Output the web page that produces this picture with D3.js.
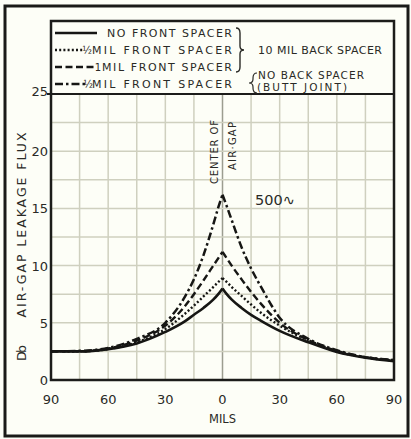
<!DOCTYPE html>
<html>
<head>
<meta charset="utf-8">
<script src="https://d3js.org/d3.v7.min.js"></script>
<style>
  body { margin: 0; background: #fdfef7; }
  text { font-family: "DejaVu Sans", sans-serif; fill: #2a2a26; }
</style>
</head>
<body>
<script>
// mils from the centre of the air-gap (left side negative)
var mils = [-90, -75, -60, -45, -30, -20, -15, -10, -5, -2, 0, 2, 5, 10, 15, 20, 30, 45, 60, 75, 90];

// Db
var noFront   = [2.5, 2.5, 2.7, 3.2, 4.2, 5.1, 5.7, 6.3, 7.0, 7.55, 8.0, 7.55, 7.0, 6.3, 5.7, 5.2, 4.3, 3.3, 2.45, 1.95, 1.65];
var halfFront = [2.5, 2.5, 2.7, 3.3, 4.45, 5.75, 6.5, 7.3, 8.1, 8.6, 8.9, 8.6, 8.1, 7.35, 6.6, 5.9, 4.75, 3.45, 2.5, 1.98, 1.7];
var oneFront  = [2.5, 2.5, 2.75, 3.45, 4.75, 6.4, 7.5, 8.7, 9.95, 10.7, 11.2, 10.7, 9.95, 8.8, 7.7, 6.7, 5.0, 3.5, 2.55, 2.0, 1.72];
var buttJoint = [2.5, 2.55, 2.8, 3.6, 5.0, 7.2, 8.8, 10.9, 13.5, 15.2, 16.2, 15.3, 13.9, 11.6, 9.75, 8.2, 5.45, 3.6, 2.6, 2.0, 1.75];

var xTicks = [-90, -60, -30, 0, 30, 60, 90];
var yTicks = [0, 5, 10, 15, 20, 25];

var W = 411, H = 439;
var svg = d3.select("body").append("svg")
    .attr("width", W)
    .attr("height", H);

// outer frame
svg.append("rect")
    .attr("x", 5).attr("y", 6).attr("width", 403).attr("height", 430)
    .attr("fill", "#fdfef7").attr("stroke", "#1a1a18").attr("stroke-width", 3);

var x = d3.scaleLinear().domain([-90, 90]).range([51, 394]);
var y = d3.scaleLinear().domain([0, 25]).range([380, 94]);

// grid
var g = svg.append("g");
g.selectAll(".vg")
    .data(d3.range(-75, 90, 15))
    .enter().append("line")
    .attr("x1", d => x(d)).attr("x2", d => x(d))
    .attr("y1", y(25)).attr("y2", y(0))
    .attr("stroke", d => d === 0 ? "#9c9d90" : "#cfd0bf")
    .attr("stroke-width", 1.5);
g.selectAll(".hg")
    .data(d3.range(2.5, 25, 2.5))
    .enter().append("line")
    .attr("x1", x(-90)).attr("x2", x(90))
    .attr("y1", d => y(d)).attr("y2", d => y(d))
    .attr("stroke", "#cfd0bf")
    .attr("stroke-width", 1.5);

// frame of plot + legend box
var frame = "#1c1c1a";
svg.append("rect")
    .attr("x", x(-90)).attr("y", 21)
    .attr("width", x(90) - x(-90)).attr("height", y(0) - 21)
    .attr("fill", "none").attr("stroke", frame).attr("stroke-width", 2.5);
svg.append("line")
    .attr("x1", x(-90) - 4).attr("x2", x(90))
    .attr("y1", y(25)).attr("y2", y(25))
    .attr("stroke", frame).attr("stroke-width", 2.2);

// curves - each side drawn on its own so the peak stays pointed
var series = [
  {v: noFront,   dash: null,        w: 2.6},
  {v: halfFront, dash: "2,2.2",     w: 2.4},
  {v: oneFront,  dash: "7,3.5",     w: 2.4},
  {v: buttJoint, dash: "8,3,2.5,3", w: 2.5}
];
var mid = mils.indexOf(0);
var line = d3.line()
    .x(d => x(d[0]))
    .y(d => y(d[1]))
    .curve(d3.curveMonotoneX);
var halves = [];
series.forEach(s => {
  var pts = mils.map((m, i) => [m, s.v[i]]);
  halves.push({pts: pts.slice(0, mid + 1), s: s});
  halves.push({pts: pts.slice(mid), s: s});
});
svg.selectAll(".curve")
    .data(halves)
    .enter().append("path")
    .attr("d", d => line(d.pts))
    .attr("fill", "none")
    .attr("stroke", "#161614")
    .attr("stroke-width", d => d.s.w)
    .attr("stroke-linejoin", "miter")
    .attr("stroke-dasharray", d => d.s.dash);

// axes labels
svg.selectAll(".xt")
    .data(xTicks)
    .enter().append("text")
    .attr("x", d => x(d)).attr("y", 404)
    .attr("text-anchor", "middle")
    .attr("font-size", 13)
    .text(d => Math.abs(d));
svg.selectAll(".yt")
    .data(yTicks)
    .enter().append("text")
    .attr("x", 48).attr("y", d => y(d) + 5 - (d === 25 ? 3 : 0))
    .attr("text-anchor", "end")
    .attr("font-size", 13)
    .text(d => d);

svg.append("text")
    .attr("x", x(0)).attr("y", 423)
    .attr("text-anchor", "middle")
    .attr("font-size", 11.5)
    .text("MILS");

function vtext(txt, cx, cy, len, size) {
  svg.append("text")
      .attr("transform", "translate(" + cx + "," + cy + ") rotate(-90)")
      .attr("text-anchor", "middle")
      .attr("dy", "0.35em")
      .attr("font-size", size)
      .attr("textLength", len)
      .attr("lengthAdjust", "spacing")
      .text(txt);
}
vtext("AIR-GAP LEAKAGE FLUX", 22, 225, 185, 12.5);
vtext("Db", 22, 353, 16, 12.5);
vtext("CENTER OF", 214, 152, 64, 10);
vtext("AIR·GAP", 232, 146, 48, 10);

svg.append("text")
    .attr("x", 255).attr("y", 205)
    .attr("font-size", 14.5)
    .attr("fill", "#4a4a44")
    .text("500∿");

// legend
var legRows = [
  {y: 33, x2: 97, dash: null,        pre: "",  px: 0,  tx: 107, t: "NO FRONT SPACER"},
  {y: 50, x2: 83, dash: "2,2.2",     pre: "½", px: 87, tx: 92,  t: "MIL FRONT SPACER"},
  {y: 67, x2: 96, dash: "7,3.5",     pre: "1", px: 98, tx: 102, t: "MIL FRONT SPACER"},
  {y: 84, x2: 86, dash: "8,3,2.5,3", pre: "½", px: 88, tx: 92,  t: "MIL FRONT SPACER"}
];
var leg = svg.selectAll(".leg")
    .data(legRows)
    .enter().append("g");
leg.append("line")
    .attr("x1", 55).attr("x2", d => d.x2)
    .attr("y1", d => d.y).attr("y2", d => d.y)
    .attr("stroke", "#161614").attr("stroke-width", 2.4)
    .attr("stroke-dasharray", d => d.dash);
leg.append("text")
    .attr("x", d => d.px).attr("y", d => d.y + 4)
    .attr("font-size", 10)
    .attr("text-anchor", "middle")
    .text(d => d.pre);
leg.append("text")
    .attr("x", d => d.tx).attr("y", d => d.y + 4)
    .attr("font-size", 11)
    .attr("textLength", d => 232 - d.tx)
    .attr("lengthAdjust", "spacing")
    .text(d => d.t);

function brace(xc, y0, y1, dir) {
  var m = (y0 + y1) / 2, w = 4 * dir;
  return "M" + (xc - w) + "," + y0 +
    " Q" + xc + "," + y0 + " " + xc + "," + (y0 + 5) +
    " L" + xc + "," + (m - 4) +
    " Q" + xc + "," + m + " " + (xc + w) + "," + m +
    " Q" + xc + "," + m + " " + xc + "," + (m + 4) +
    " L" + xc + "," + (y1 - 5) +
    " Q" + xc + "," + y1 + " " + (xc - w) + "," + y1;
}
svg.append("path").attr("d", brace(240, 28, 72, 1))
    .attr("fill", "none").attr("stroke", "#2a2a26").attr("stroke-width", 1.4);
svg.append("path").attr("d", brace(253, 73, 93, -1))
    .attr("fill", "none").attr("stroke", "#2a2a26").attr("stroke-width", 1.2);

svg.append("text").attr("x", 258).attr("y", 54)
    .attr("font-size", 11).attr("textLength", 124).attr("lengthAdjust", "spacing")
    .text("10 MIL BACK SPACER");
svg.append("text").attr("x", 258).attr("y", 79)
    .attr("font-size", 10.5).attr("textLength", 106).attr("lengthAdjust", "spacing")
    .text("NO BACK SPACER");
svg.append("text").attr("x", 257).attr("y", 91)
    .attr("font-size", 10.5).attr("textLength", 90).attr("lengthAdjust", "spacing")
    .text("(BUTT JOINT)");
</script>
</body>
</html>
